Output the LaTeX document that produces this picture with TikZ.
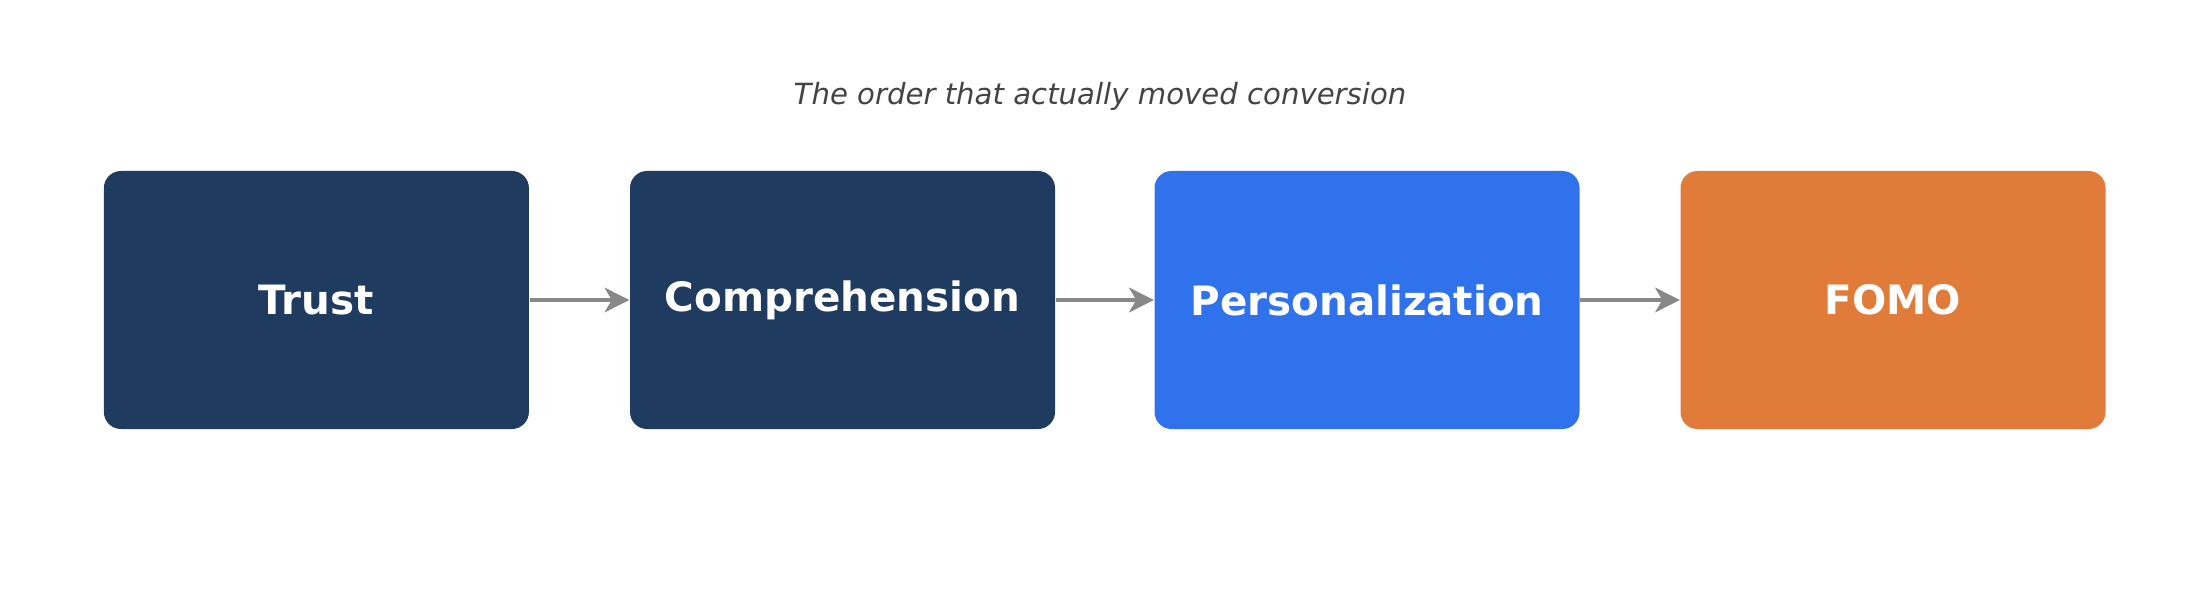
\documentclass[tikz,border=0pt]{standalone}
\usepackage{fontspec}
\setmainfont{DejaVu Sans}
\usetikzlibrary{arrows.meta}
\definecolor{navy}{HTML}{1F3B5F}
\definecolor{bblue}{HTML}{3072EC}
\definecolor{orng}{HTML}{E07B39}
\definecolor{arr}{HTML}{888888}
\definecolor{ttl}{HTML}{444444}
\begin{document}
\begin{tikzpicture}[
  box/.style={rounded corners=0.17cm, minimum width=4.25cm, minimum height=2.58cm, inner sep=0pt, text=white, font=\fontsize{11.5}{14}\selectfont\bfseries},
  conn/.style={draw=arr, line width=1.4pt, -{Stealth[length=7pt,width=7pt,inset=2pt]}}
]
\useasboundingbox (0,0) rectangle (22,6);
\node[font=\fontsize{8.3}{10}\selectfont\itshape, text=ttl] (title) at (11,5.04) {The order that actually moved conversion};
\node[box, fill=navy] (t) at (3.164,3.0) {Trust};
\node[box, fill=navy] (c) at (8.425,3.0) {Comprehension};
\node[box, fill=bblue] (p) at (13.67,3.0) {Personalization};
\node[box, fill=orng] (f) at (18.93,3.0) {FOMO};
\draw[conn] (t) -- (c);
\draw[conn] (c) -- (p);
\draw[conn] (p) -- (f);
\end{tikzpicture}
\end{document}
